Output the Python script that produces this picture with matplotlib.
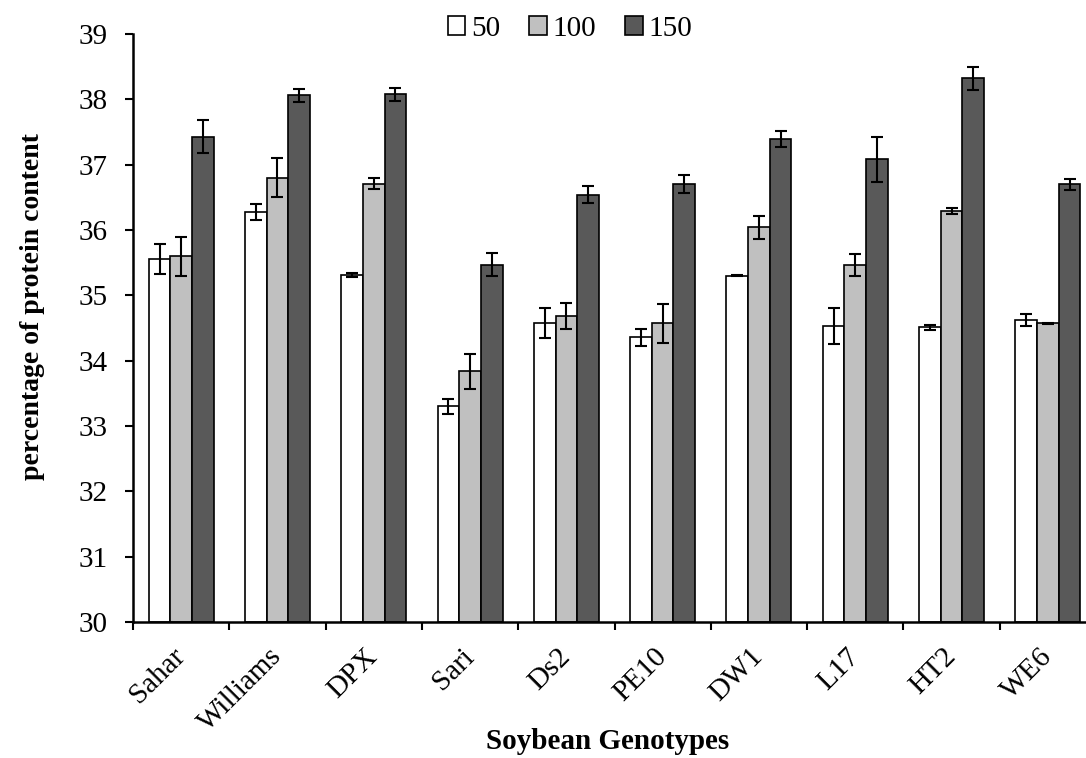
import numpy as np
import matplotlib.pyplot as plt

plt.rcParams['font.family'] = ['Liberation Serif', 'DejaVu Serif']

genotypes = ['Sahar', 'Williams', 'DPX', 'Sari', 'Ds2', 'PE10', 'DW1', 'L17', 'HT2', 'WE6']
series = ['50', '100', '150']

v50 = [35.55, 36.28, 35.31, 33.30, 34.57, 34.36, 35.30, 34.53, 34.51, 34.62]
v100 = [35.60, 36.80, 36.71, 33.84, 34.69, 34.57, 36.04, 35.46, 36.29, 34.57]
v150 = [37.43, 38.06, 38.08, 35.47, 36.54, 36.70, 37.39, 37.08, 38.32, 36.70]

e50 = [0.23, 0.12, 0.03, 0.12, 0.23, 0.13, 0.01, 0.27, 0.04, 0.09]
e100 = [0.30, 0.30, 0.08, 0.27, 0.20, 0.30, 0.18, 0.17, 0.05, 0.01]
e150 = [0.25, 0.10, 0.10, 0.18, 0.13, 0.14, 0.12, 0.35, 0.18, 0.08]

colors = ['white', '#c0c0c0', '#595959']

fig = plt.figure(figsize=(10.86, 7.58), dpi=100)
ax = fig.add_axes([0.1225, 0.1794, 0.8867, 0.7757])

x = np.arange(len(genotypes)) + 0.5
w = 0.225
for i, (vals, errs) in enumerate(zip([v50, v100, v150], [e50, e100, e150])):
    ax.bar(x + (i - 1) * w, np.array(vals) - 30, width=w, bottom=30,
           color=colors[i], edgecolor='black', linewidth=1.2, label=series[i],
           yerr=errs, error_kw=dict(ecolor='black', elinewidth=1.5, capsize=4.5, capthick=1.5),
           zorder=2)

ax.set_xlim(0, len(genotypes))
ax.set_ylim(30, 39)
ax.set_yticks(range(30, 40))
ax.set_xticks(x)
ax.set_xticklabels(genotypes, rotation=45, ha='right', va='center', rotation_mode='anchor')
ax.set_xticks(np.arange(len(genotypes) + 1), minor=True)
ax.tick_params(axis='x', which='major', length=0, pad=22, labelsize=21)
ax.tick_params(axis='x', which='minor', length=6, width=1.5, direction='out')
ax.tick_params(axis='y', length=6, width=1.5, direction='out', pad=12, labelsize=21)

for s in ['top', 'right']:
    ax.spines[s].set_visible(False)
for s in ['left', 'bottom']:
    ax.spines[s].set_linewidth(1.8)

ax.set_ylabel('percentage of protein content', fontsize=20, fontweight='bold')
ax.yaxis.set_label_coords(-0.0914, 0.537)
ax.set_xlabel('Soybean Genotypes', fontsize=21, fontweight='bold')
ax.xaxis.set_label_coords(0.493, -0.18)

leg = fig.legend(loc='center', bbox_to_anchor=(0.525, 0.962), ncol=3, frameon=False,
                 fontsize=21, handlelength=0.6, handleheight=0.6, handletextpad=0.2,
                 columnspacing=1.0)

fig.savefig('out.png', dpi=100)
